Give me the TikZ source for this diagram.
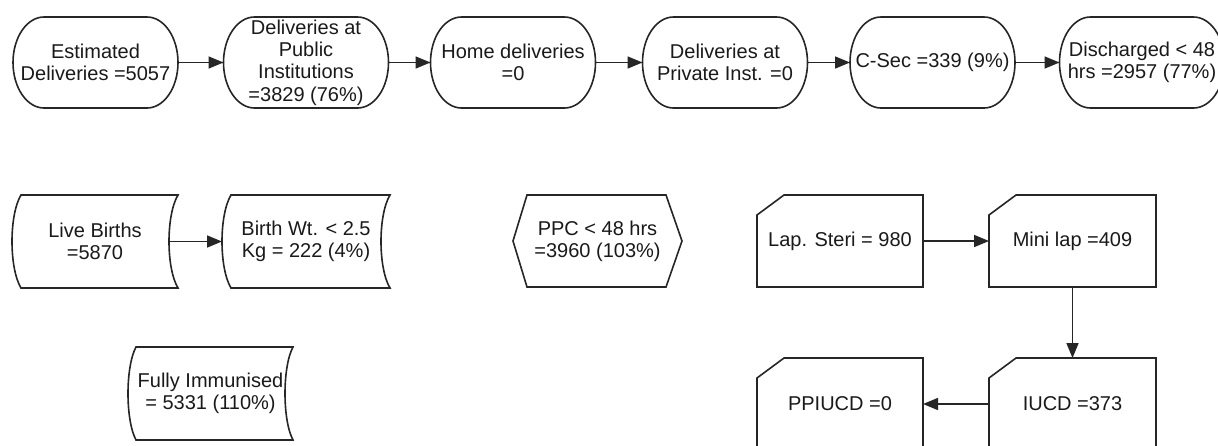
\documentclass[tikz,border=0pt]{standalone}
\usepackage{fontspec}
\setmainfont{Liberation Sans}
\usetikzlibrary{arrows.meta}
\definecolor{linec}{HTML}{262626}
\definecolor{textc}{HTML}{1A1A1A}
\tikzset{
  edgeline/.style={draw=linec, line width=1.6pt, line join=miter},
  box/.style={inner sep=0pt, outer sep=0pt, align=center, text=textc,
    font=\fontsize{20pt}{22.3pt}\selectfont},
  term/.style={box, minimum width=165pt, minimum height=91pt},
  stor/.style={box, minimum height=93pt},
  card/.style={box, minimum width=166pt, minimum height=92pt},
  arr/.style={edgeline, -{Triangle[length=15pt,width=12pt]}}
}
\newcommand{\termdraw}[1]{%
  \draw[edgeline] ([xshift=31pt]#1.north west) -- ([xshift=-31pt]#1.north east)
    arc[start angle=90, end angle=-90, x radius=31pt, y radius=45.5pt]
    -- ([xshift=31pt]#1.south west)
    arc[start angle=270, end angle=90, x radius=31pt, y radius=45.5pt] -- cycle;}
% stored data: left side convex, right side concave, both bowing left by #2
\newcommand{\stordraw}[2]{%
  \draw[edgeline] ([xshift=#2pt]#1.north west) -- (#1.north east)
    .. controls ([xshift=-4/3*#2pt, yshift=-20pt]#1.north east)
       and ([xshift=-4/3*#2pt, yshift=20pt]#1.south east) .. (#1.south east)
    -- ([xshift=#2pt]#1.south west)
    .. controls ([xshift=-1/3*#2pt, yshift=20pt]#1.south west)
       and ([xshift=-1/3*#2pt, yshift=-20pt]#1.north west) .. ([xshift=#2pt]#1.north west) -- cycle;}
\newcommand{\carddraw}[1]{%
  \draw[edgeline] (#1.north east) -- (#1.south east) -- (#1.south west)
    -- ([yshift=-20pt]#1.north west) -- ([xshift=27pt]#1.north west) -- cycle;}
\begin{document}
\begin{tikzpicture}[x=1pt, y=-1pt]
\useasboundingbox (0,0) rectangle (1218,445);
\clip (0,0) rectangle (1218,445);
\fill[white] (0,0) rectangle (1218,445);

% top row
\node[term] (n1) at (95.5,62.5) {Estimated\\Deliveries =5057};
\node[term] (n2) at (306,62.5) {Deliveries at\\Public\\Institutions\\=3829 (76\%)};
\node[term] (n3) at (513,62.5) {Home deliveries\\=0};
\node[term] (n4) at (725,62.5) {Deliveries at\\Private Inst. =0};
\node[term] (n5) at (932.5,62.5) {C-Sec =339 (9\%)};
\node[term] (n6) at (1142,62.5) {Discharged < 48\\hrs =2957 (77\%)};
\foreach \n in {n1,n2,n3,n4,n5,n6} {\termdraw{\n}}
\draw[arr] (n1) -- (n2);
\draw[arr] (n2) -- (n3);
\draw[arr] (n3) -- (n4);
\draw[arr] (n4) -- (n5);
\draw[arr] (n5) -- (n6);

% stored-data shapes
\node[stor, minimum width=166pt] (lb) at (95,241.5) {Live Births\\=5870};
\node[stor, minimum width=168pt] (bw) at (306,241.5) {Birth Wt. < 2.5\\Kg = 222 (4\%)};
\node[stor, minimum width=165pt] (fi) at (210.5,393.5) {Fully Immunised\\= 5331 (110\%)};
\stordraw{lb}{9}
\stordraw{bw}{9}
\stordraw{fi}{8}
\draw[arr] ([xshift=-9pt]lb.east) -- (bw.west);

% hexagon
\node[box, minimum width=169pt, minimum height=92pt] (pp) at (597.5,241) {PPC < 48 hrs\\=3960 (103\%)};
\draw[edgeline] ([xshift=14pt]pp.north west) -- ([xshift=-16pt]pp.north east) -- (pp.east)
  -- ([xshift=-16pt]pp.south east) -- ([xshift=14pt]pp.south west) -- (pp.west) -- cycle;

% cards
\node[card] (ls) at (840,241) {Lap. Steri = 980};
\node[card, minimum width=167pt] (ml) at (1072.5,241) {Mini lap =409};
\node[card, minimum width=167pt] (iu) at (1072.5,404) {IUCD =373};
\node[card] (pi) at (840,404) {PPIUCD =0};
\foreach \n in {ls,ml,iu,pi} {\carddraw{\n}}
\draw[arr] (ls) -- (ml);
\draw[arr] (ml) -- (iu);
\draw[arr] (iu) -- (pi);
\end{tikzpicture}
\end{document}
